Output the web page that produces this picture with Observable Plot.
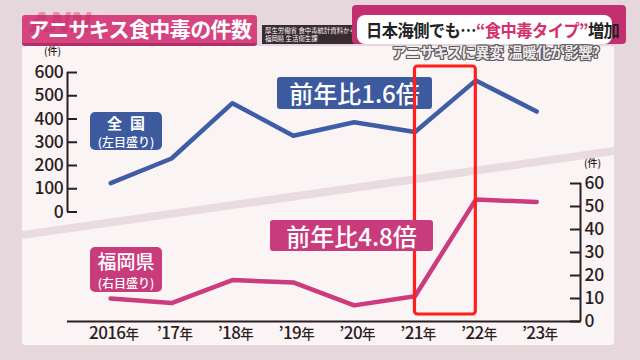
<!DOCTYPE html>
<html><head><meta charset="utf-8">
<script src="https://cdn.jsdelivr.net/npm/d3@7"></script>
<script src="https://cdn.jsdelivr.net/npm/@observablehq/plot@0.6"></script>
<style>
body{margin:0;background:#e6d8dd;font-family:"Noto Sans CJK JP","Noto Sans",sans-serif;}
#stage{position:relative;width:640px;height:360px;overflow:hidden;background:#e6d7dc;}
.abs{position:absolute;}
#panel{left:22px;top:46px;width:592px;height:299px;background:#fbf4f5;overflow:hidden;border-radius:3px;}
#stripe{left:-3px;top:143px;width:598px;height:8px;background:#e8dce1;transform:rotate(-8.08deg);}
#titleBox{left:22px;top:15px;width:235px;height:28px;background:#d5447f;border-bottom:3px solid #b02f66;border-radius:3px;}
#annPill{left:22px;top:11px;width:96px;height:34px;background:rgba(255,210,228,0.45);border-radius:17px;}
#ann{left:30px;top:8px;font:italic 900 27px "DejaVu Sans",sans-serif;line-height:30px;color:rgba(190,40,100,0.4);letter-spacing:-2px;}
#titleText{left:28px;top:13px;color:#fff;font-size:21px;font-weight:700;letter-spacing:-0.6px;line-height:30px;white-space:nowrap;}
#srcBox{left:262px;top:25px;width:96px;height:19px;background:#3a2a31;color:#fff;font-size:6.4px;line-height:8px;padding:2px 3px;box-sizing:border-box;white-space:nowrap;}
#magenta{left:352px;top:5px;width:274px;height:39px;background:#c4306f;border-radius:4px;}
#whiteBox{left:357px;top:15px;width:255px;height:29px;background:#fff;border-radius:8px;}
#headText{left:366px;top:15px;font-size:17.5px;font-weight:700;color:#222;line-height:29px;white-space:nowrap;letter-spacing:-0.6px;transform:scaleX(0.93);transform-origin:0 50%;}
#headText .hl{color:#d4306c;}
#subText{left:392px;top:41px;font-size:14.5px;font-weight:700;color:#eeeaec;line-height:22px;white-space:nowrap;letter-spacing:-0.5px;
 text-shadow:1px 1px 0 #5d5a5c,-1px -1px 0 #5d5a5c,1px -1px 0 #5d5a5c,-1px 1px 0 #5d5a5c,0 1px 0 #5d5a5c,0 -1px 0 #5d5a5c,1px 0 0 #5d5a5c,-1px 0 0 #5d5a5c;}
.unit{font-size:10px;line-height:10px;color:#2b1d22;font-weight:500;white-space:nowrap;}
.lab{color:#fff;text-align:center;border-radius:5px;white-space:nowrap;}
.blue{background:#3d5a9f;}
.pink{background:#c83c7c;}
.big{font-size:24px;font-weight:500;line-height:32px;letter-spacing:0px;}
.plotlayer{left:0;top:0;}
svg [aria-label="x-axis tick label"] text{letter-spacing:-0.6px;}
svg [aria-label="y-axis tick label"] text{letter-spacing:-0.3px;}
</style></head><body>
<div id="stage">
  <div id="panel" class="abs"><div id="stripe" class="abs"></div></div>
  <div id="annPill" class="abs"></div>
  <div id="titleBox" class="abs"></div>
  <div id="ann" class="abs">ANN</div>
  <div id="titleText" class="abs">アニサキス食中毒の件数</div>
  <div id="srcBox" class="abs">厚生労働省 食中毒統計資料から<br>福岡県 生活衛生課</div>
  <div id="magenta" class="abs"></div>
  <div id="whiteBox" class="abs"></div>
  <div id="headText" class="abs">日本海側でも…<span class="hl">“食中毒タイプ”</span>増加</div>
  <div id="subText" class="abs">アニサキスに異変<span style="display:inline-block;width:5px"></span>温暖化が影響?</div>
  <div class="abs unit" style="left:44px;top:46px;">(件)</div>
  <div class="abs unit" style="left:584px;top:158px;">(件)</div>
  <div id="national" class="abs plotlayer"></div>
  <div class="abs lab blue" style="left:90px;top:112px;width:72px;height:38px;">
    <div style="font-size:15px;font-weight:700;line-height:21px;letter-spacing:8px;padding-left:8px;">全国</div>
    <div style="font-size:12px;line-height:17px;font-weight:500;">(左目盛り)</div>
  </div>
  <div class="abs lab blue big" style="left:277px;top:77px;width:155px;height:32px;border-radius:3px;">前年比1.6倍</div>
  <div id="fukuoka" class="abs plotlayer"></div>
  <div class="abs lab pink" style="left:90px;top:247px;width:72px;height:45px;">
    <div style="font-size:19px;font-weight:500;line-height:27px;">福岡県</div>
    <div style="font-size:12px;line-height:17px;font-weight:500;">(右目盛り)</div>
  </div>
  <div class="abs lab pink big" style="left:270px;top:220px;width:163px;height:31px;border-radius:3px;line-height:31px;">前年比4.8倍</div>
</div>
<script>
// ---- data ----
const years = [2016, 2017, 2018, 2019, 2020, 2021, 2022, 2023];
const xLabels = ["2016年", "’17年", "’18年", "’19年", "’20年", "’21年", "’22年", "’23年"];
const nationalCases = [124, 230, 468, 328, 386, 344, 566, 432];
const fukuokaCases = [10, 8, 18, 17, 7, 11, 53, 52];
const leftTicks = [0, 100, 200, 300, 400, 500, 600];
const rightTicks = [0, 10, 20, 30, 40, 50, 60];
const highlight = [{from: 2021, to: 2022}];

// ---- chart ----
const W = 640, H = 360;
const xDomain = [2015.29, 2023.72];
const font = '"Noto Sans CJK JP", "Noto Sans", sans-serif';
const ink = "#2b1d22";
const blue = "#3f5ca6", pink = "#cc3b7e", red = "#ff1f1f";
const national = years.map((year, i) => ({year, value: nationalCases[i]}));
const fukuoka = years.map((year, i) => ({year, value: fukuokaCases[i]}));
const style = {background: "transparent", fontFamily: font, overflow: "visible"};

const topPlot = Plot.plot({
  width: W, height: H,
  marginLeft: 67, marginRight: 60, marginTop: 72, marginBottom: 148.5,
  x: {domain: xDomain, axis: null},
  y: {domain: [leftTicks[0], leftTicks[leftTicks.length - 1]], label: null},
  style,
  marks: [
    Plot.ruleX([xDomain[0]], {y1: leftTicks[0], y2: leftTicks[leftTicks.length - 1], stroke: ink, strokeWidth: 2}),
    Plot.axisY(leftTicks, {anchor: "left", label: null, tickSize: -10, tickPadding: 14, strokeWidth: 2, color: ink, fontSize: 17.5, fontWeight: 500}),
    Plot.line(national, {x: "year", y: "value", stroke: blue, strokeWidth: 4.5, strokeLinejoin: "round", strokeLinecap: "round"})
  ]
});
document.getElementById("national").append(topPlot);

const bottomPlot = Plot.plot({
  width: W, height: H,
  marginLeft: 67, marginRight: 60, marginTop: 183, marginBottom: 39,
  x: {domain: xDomain, label: null},
  y: {domain: [rightTicks[0], rightTicks[rightTicks.length - 1]], label: null},
  style,
  marks: [
    Plot.ruleY([rightTicks[0]], {stroke: ink, strokeWidth: 2}),
    Plot.ruleX([xDomain[1]], {y1: rightTicks[0], y2: rightTicks[rightTicks.length - 1], stroke: ink, strokeWidth: 2}),
    Plot.axisY(rightTicks, {anchor: "right", label: null, tickSize: -11, tickPadding: 15, strokeWidth: 2, color: ink, fontSize: 17.5, fontWeight: 500}),
    Plot.axisX(years, {anchor: "bottom", label: null, tickSize: 0, tickPadding: 5, dx: 3, color: ink, fontSize: 17, fontWeight: 500,
      tickFormat: d => xLabels[years.indexOf(d)]}),
    Plot.line(fukuoka, {x: "year", y: "value", stroke: pink, strokeWidth: 4.5, strokeLinejoin: "round", strokeLinecap: "round"}),
    Plot.rect(highlight, {x1: "from", x2: "to", fill: "none", stroke: red, strokeWidth: 3.2, rx: 3, insetTop: -117, insetBottom: 7})
  ]
});
document.getElementById("fukuoka").append(bottomPlot);

// smaller 年 suffix in x tick labels
bottomPlot.querySelectorAll('[aria-label="x-axis tick label"] text').forEach(t => {
  const s = t.textContent;
  if (s.endsWith("年")) {
    t.textContent = s.slice(0, -1);
    const ts = document.createElementNS("http://www.w3.org/2000/svg", "tspan");
    ts.setAttribute("font-size", "13.5");
    ts.textContent = "年";
    t.appendChild(ts);
  }
});
</script>
</body></html>
